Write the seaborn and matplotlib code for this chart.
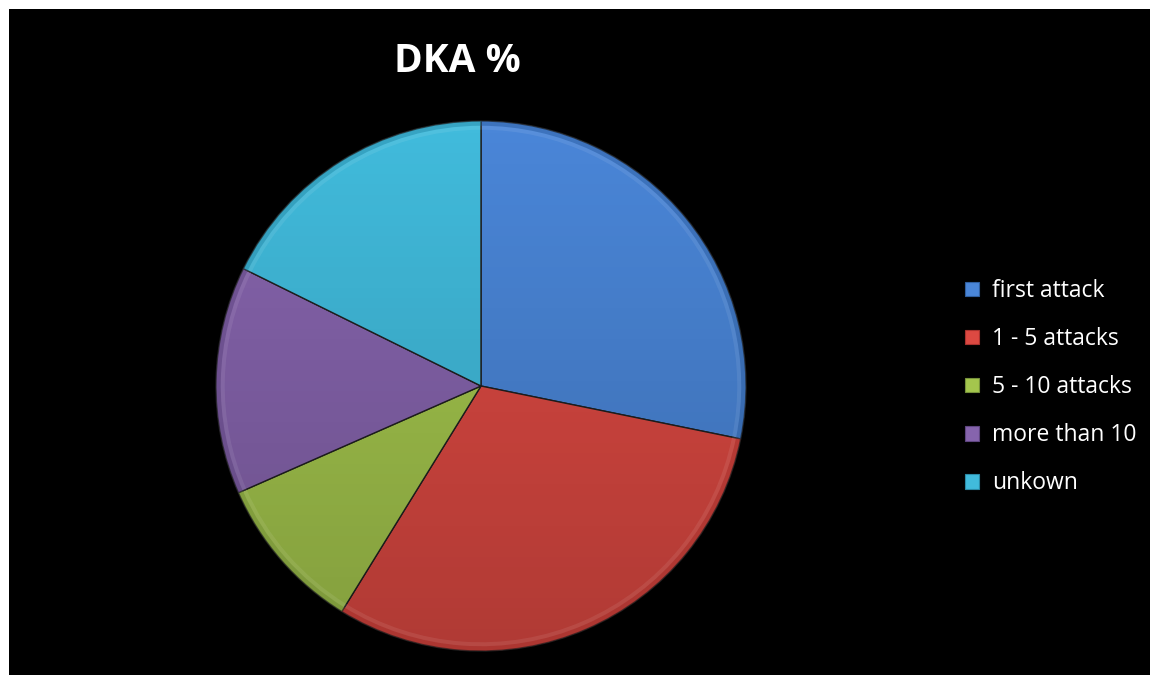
import matplotlib
matplotlib.use("Agg")
import matplotlib.pyplot as plt
import matplotlib.patches as mpatches
import numpy as np
import seaborn as sns

# DKA episodes by prior-attack history (share of patients, %)
categories = ["first attack", "1 - 5 attacks", "5 - 10 attacks", "more than 10", "unkown"]
shares = [28.2, 30.6, 9.6, 13.9, 17.7]
title = "DKA %"

sns.set_theme(style="white")
plt.rcParams["font.family"] = ["Open Sans", "DejaVu Sans"]

palette = sns.color_palette(["#4A86D8", "#DC4942", "#A4C64D", "#8664AD", "#41BBDC"])
edge_palette = sns.color_palette(["#2F5E9E", "#A8322E", "#76913A", "#5F4680", "#2B8AA6"])

fig = plt.figure(figsize=(11.5, 6.75), dpi=100, facecolor="white")

# black chart area with a thin white margin on the top and left
bg_ax = fig.add_axes([9 / 1150, 0, 1 - 9 / 1150, 1 - 9 / 675], zorder=-1)
bg_ax.set_facecolor("black")
bg_ax.set_xticks([])
bg_ax.set_yticks([])
for s in bg_ax.spines.values():
    s.set_visible(False)

ax = fig.add_axes([216 / 1150, 24 / 675, 530 / 1150, 530 / 675], zorder=1)
ax.set_facecolor("none")
ax.set_aspect("equal")

wedges, _ = ax.pie(shares, colors=palette, startangle=90, counterclock=False,
                   radius=1.0,
                   wedgeprops=dict(linewidth=1.0, edgecolor="#202020"))

# vertical lighting: slices darken gently toward the bottom
shade = np.zeros((200, 2, 4))
shade[..., 3] = np.linspace(0.0, 0.2, 200)[:, None]
disc = mpatches.Circle((0, 0), 1.0, transform=ax.transData)
img = ax.imshow(shade, extent=(-1, 1, -1, 1), origin="upper", zorder=3,
                interpolation="bilinear")
img.set_clip_path(disc)

# soft bevel: a darker outer rim and a faint light band just inside it
for w, ec in zip(wedges, edge_palette):
    rim = mpatches.Wedge((0, 0), 1.0, w.theta1, w.theta2, width=0.018,
                         facecolor=ec, edgecolor="none", alpha=0.45, zorder=4)
    ax.add_patch(rim)
    inner = mpatches.Wedge((0, 0), 0.982, w.theta1, w.theta2, width=0.015,
                           facecolor="white", edgecolor="none", alpha=0.08, zorder=4)
    ax.add_patch(inner)

ax.set_xlim(-1.0, 1.0)
ax.set_ylim(-1.0, 1.0)
ax.axis("off")

fig.text(457 / 1150, 1 - 62 / 675, title, ha="center", va="center",
         color="white", fontsize=28, fontweight="bold")

handles = [mpatches.Patch(facecolor=c, edgecolor=e, linewidth=0.8)
           for c, e in zip(palette, edge_palette)]
leg = fig.legend(handles, categories, loc="upper left",
                 bbox_to_anchor=(965 / 1150, 1 - 279 / 675),
                 frameon=False, fontsize=16.5, labelcolor="white",
                 handlelength=0.62, handleheight=0.62, handletextpad=0.55,
                 labelspacing=1.05, borderaxespad=0, borderpad=0)

fig.savefig("out.png", dpi=100, facecolor=fig.get_facecolor())
